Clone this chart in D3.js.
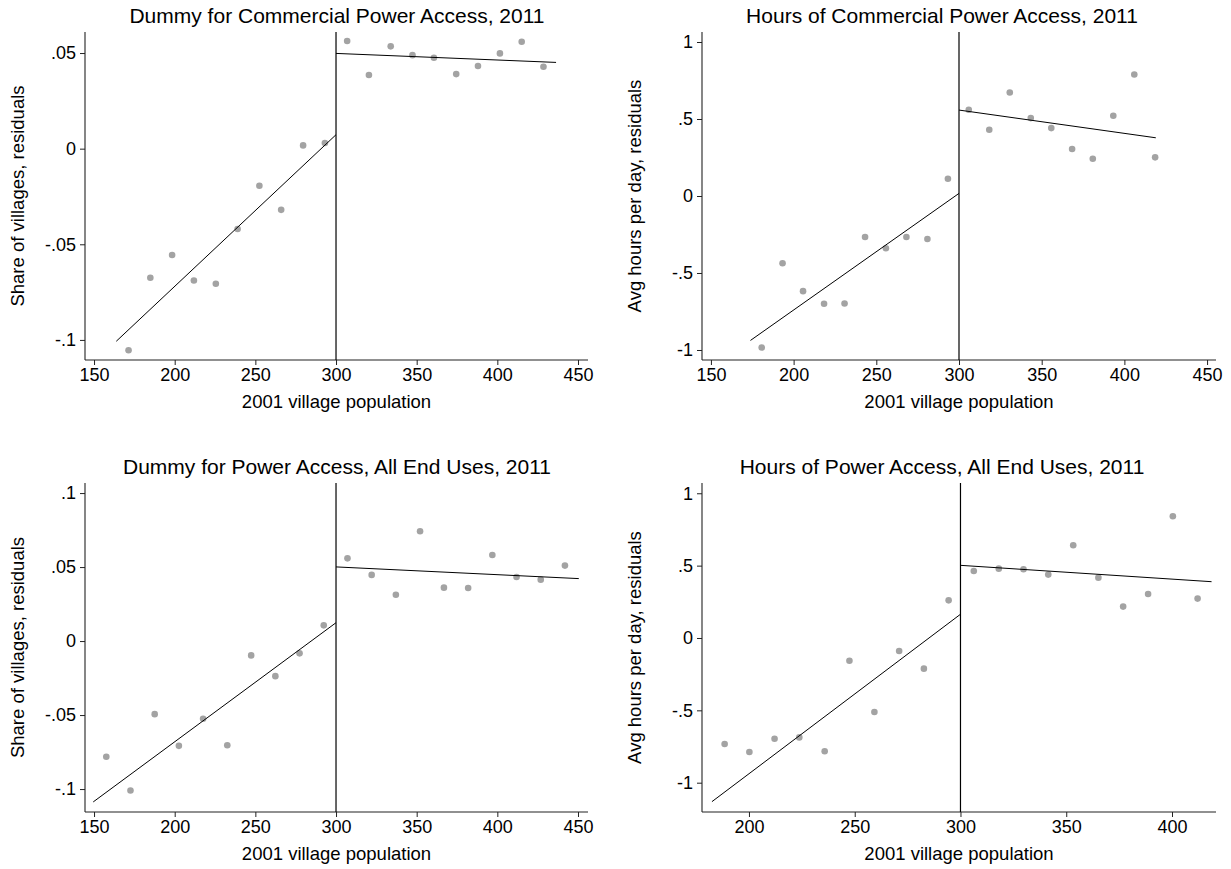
<!DOCTYPE html>
<html lang="en">
<head>
    <meta charset="UTF-8">
    <title>RD plots: power access, 2011</title>
    <script src="https://cdnjs.cloudflare.com/ajax/libs/d3/7.8.5/d3.min.js"></script>
    <style>
        body {
            margin: 0;
            padding: 0;
            background-color: white;
        }
        svg text {
            font-family: "Liberation Sans", Arial, sans-serif;
            fill: #000;
        }
    </style>
</head>
<body>
    <div id="chart"></div>

    <script>
        // Binned residual means
        const popTL = [171.4, 184.9, 198.4, 211.9, 225.5, 239.0, 252.5, 266.0, 279.6, 293.1,
                       306.9, 320.4, 333.9, 347.4, 360.7, 374.5, 388.0, 401.6, 415.1, 428.6];
        const shareCommercial = [-0.1054, -0.0675, -0.0556, -0.0689, -0.0706, -0.0420, -0.0194, -0.0320, 0.0017, 0.0030,
                                 0.0563, 0.0385, 0.0535, 0.0489, 0.0475, 0.0390, 0.0432, 0.0498, 0.0559, 0.0428];

        const popTR = [180.7, 193.3, 205.7, 218.4, 230.8, 243.2, 255.8, 268.2, 280.9, 293.3,
                       305.9, 318.3, 330.7, 343.4, 355.8, 368.4, 380.9, 393.3, 406.0, 418.6];
        const hoursCommercial = [-0.984, -0.437, -0.618, -0.700, -0.698, -0.266, -0.339, -0.266, -0.279, 0.112,
                                 0.560, 0.430, 0.672, 0.506, 0.441, 0.305, 0.242, 0.521, 0.789, 0.251];

        const popBL = [157.6, 172.6, 187.6, 202.6, 217.6, 232.6, 247.4, 262.4, 277.4, 292.4,
                       307.1, 322.1, 337.1, 352.1, 366.9, 381.9, 396.9, 411.9, 426.9, 441.9];
        const shareAllUses = [-0.0782, -0.1010, -0.0494, -0.0708, -0.0525, -0.0704, -0.0097, -0.0237, -0.0083, 0.0106,
                              0.0559, 0.0447, 0.0313, 0.0742, 0.0361, 0.0359, 0.0582, 0.0433, 0.0415, 0.0510];

        const popBR = [188.5, 200.2, 212.1, 223.8, 235.8, 247.5, 259.3, 271.0, 282.7, 294.4,
                       306.3, 318.1, 329.8, 341.5, 353.3, 365.2, 376.9, 388.7, 400.4, 412.1];
        const hoursAllUses = [-0.733, -0.788, -0.696, -0.687, -0.783, -0.157, -0.511, -0.090, -0.212, 0.260,
                              0.463, 0.479, 0.475, 0.438, 0.641, 0.417, 0.217, 0.304, 0.841, 0.272];

        // Fitted lines each side of the cutoff: [x0, y0, x1, y1]
        const fitTL = [[163.8, -0.1007, 300, 0.0073], [300, 0.0498, 436.4, 0.0451]];
        const fitTR = [[173.9, -0.938, 300, 0.017], [300, 0.558, 419.0, 0.378]];
        const fitBL = [[149.5, -0.1087, 300, 0.0124], [300, 0.0501, 450.5, 0.0422]];
        const fitBR = [[182.5, -1.131, 300, 0.164], [300, 0.502, 418.7, 0.389]];

        const cutoff = 300;

        // Axis ranges and tick labels
        const xDomTL = [144.4, 456.2], yDomTL = [-0.1105, 0.061];
        const xDomTR = [144.6, 455.4], yDomTR = [-1.065, 1.065];
        const xDomBL = [144.4, 456.2], yDomBL = [-0.1155, 0.1068];
        const xDomBR = [177.8, 420.8], yDomBR = [-1.2025, 1.071];

        const xTicksWide = [150, 200, 250, 300, 350, 400, 450];
        const xTicksNarrow = [200, 250, 300, 350, 400];
        const yTicksShare1 = [-0.1, -0.05, 0, 0.05];
        const yTicksShare2 = [-0.1, -0.05, 0, 0.05, 0.1];
        const yTicksHours = [-1, -0.5, 0, 0.5, 1];

        const titles = [
            "Dummy for Commercial Power Access, 2011",
            "Hours of Commercial Power Access, 2011",
            "Dummy for Power Access, All End Uses, 2011",
            "Hours of Power Access, All End Uses, 2011"
        ];
        const yTitles = ["Share of villages, residuals", "Avg hours per day, residuals"];
        const xTitle = "2001 village population";

        const panels = [
            { title: titles[0], ytitle: yTitles[0], x: popTL, y: shareCommercial, fit: fitTL,
              xd: xDomTL, yd: yDomTL, xt: xTicksWide, yt: yTicksShare1,
              left: 85, right: 588, top: 32, bottom: 360, titleX: 337 },
            { title: titles[1], ytitle: yTitles[1], x: popTR, y: hoursCommercial, fit: fitTR,
              xd: xDomTR, yd: yDomTR, xt: xTicksWide, yt: yTicksHours,
              left: 702, right: 1216, top: 32, bottom: 360, titleX: 942 },
            { title: titles[2], ytitle: yTitles[0], x: popBL, y: shareAllUses, fit: fitBL,
              xd: xDomBL, yd: yDomBL, xt: xTicksWide, yt: yTicksShare2,
              left: 85, right: 588, top: 483, bottom: 812, titleX: 337 },
            { title: titles[3], ytitle: yTitles[1], x: popBR, y: hoursAllUses, fit: fitBR,
              xd: xDomBR, yd: yDomBR, xt: xTicksNarrow, yt: yTicksHours,
              left: 702, right: 1216, top: 483, bottom: 812, titleX: 942 }
        ];

        // Stata style labels: drop the leading zero
        const fmt = v => {
            if (v === 0) return "0";
            let s = String(+v.toFixed(3));
            return s.replace(/^(-?)0\./, "$1.");
        };

        const width = 1231;
        const height = 869;

        const svg = d3.select("#chart")
            .append("svg")
            .attr("width", width)
            .attr("height", height);

        panels.forEach(p => {
            const xScale = d3.scaleLinear().domain(p.xd).range([p.left, p.right]);
            const yScale = d3.scaleLinear().domain(p.yd).range([p.bottom, p.top]);
            const g = svg.append("g");

            // Title
            g.append("text")
                .attr("x", p.titleX)
                .attr("y", p.top - 17)
                .attr("dy", "0.36em")
                .attr("text-anchor", "middle")
                .style("font-size", "21px")
                .text(p.title);

            // Axes
            const xAxis = g.append("g")
                .attr("transform", `translate(0,${p.bottom})`)
                .call(d3.axisBottom(xScale).tickValues(p.xt).tickSize(5).tickPadding(3).tickFormat(d3.format("d")));
            const yAxis = g.append("g")
                .attr("transform", `translate(${p.left},0)`)
                .call(d3.axisLeft(yScale).tickValues(p.yt).tickSize(5).tickPadding(4).tickFormat(fmt));

            [xAxis, yAxis].forEach(a => {
                a.select(".domain").attr("stroke", "#222").attr("stroke-width", 1.1)
                    .attr("d", null);
                a.selectAll(".tick line").attr("stroke", "#222");
                a.selectAll(".tick text")
                    .style("font-size", "18px")
                    .style("font-family", "'Liberation Sans', Arial, sans-serif")
                    .attr("fill", "#000");
            });
            // plain axis lines without end caps
            xAxis.select(".domain").remove();
            yAxis.select(".domain").remove();
            g.append("line")
                .attr("x1", p.left).attr("x2", p.right)
                .attr("y1", p.bottom).attr("y2", p.bottom)
                .attr("stroke", "#222").attr("stroke-width", 1.1);
            g.append("line")
                .attr("x1", p.left).attr("x2", p.left)
                .attr("y1", p.top).attr("y2", p.bottom)
                .attr("stroke", "#222").attr("stroke-width", 1.1);

            // Axis titles
            g.append("text")
                .attr("x", (p.left + p.right) / 2)
                .attr("y", p.bottom + 41)
                .attr("dy", "0.36em")
                .attr("text-anchor", "middle")
                .style("font-size", "18.5px")
                .text(xTitle);

            g.append("text")
                .attr("transform", `translate(${p.left - 68},${(p.top + p.bottom) / 2}) rotate(-90)`)
                .attr("dy", "0.36em")
                .attr("text-anchor", "middle")
                .style("font-size", "18.5px")
                .text(p.ytitle);

            // Cutoff line
            g.append("line")
                .attr("x1", xScale(cutoff)).attr("x2", xScale(cutoff))
                .attr("y1", p.top).attr("y2", p.bottom)
                .attr("stroke", "#000").attr("stroke-width", 1.2);

            // Binned points
            g.selectAll("circle")
                .data(d3.zip(p.x, p.y))
                .enter().append("circle")
                .attr("cx", d => xScale(d[0]))
                .attr("cy", d => yScale(d[1]))
                .attr("r", 3.3)
                .attr("fill", "#a3a3a3");

            // Fitted lines
            g.selectAll("line.fit")
                .data(p.fit)
                .enter().append("line")
                .attr("class", "fit")
                .attr("x1", d => xScale(d[0])).attr("y1", d => yScale(d[1]))
                .attr("x2", d => xScale(d[2])).attr("y2", d => yScale(d[3]))
                .attr("stroke", "#000").attr("stroke-width", 1);
        });
    </script>
</body>
</html>
